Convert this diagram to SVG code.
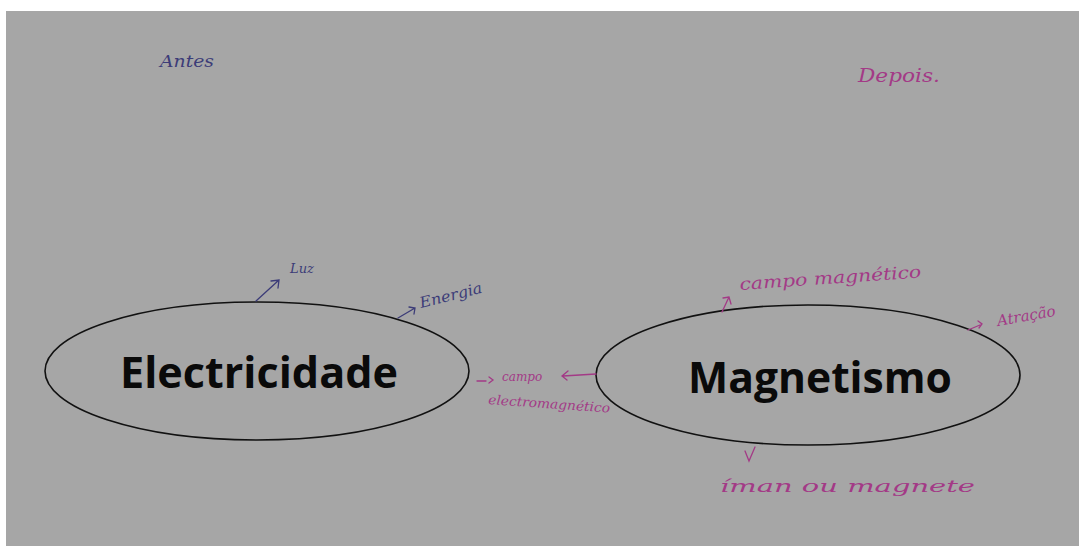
<svg xmlns="http://www.w3.org/2000/svg" width="1079" height="547" viewBox="0 0 1079 547">
<style>
.ell{fill:none;stroke:#111;stroke-width:1.6}
.big{font-family:"Open Sans","Noto Sans",sans-serif;font-weight:bold;font-size:43px;fill:#0a0a0a}
.hb{font-family:"DejaVu Serif","Liberation Serif",serif;font-style:italic;fill:#3c3c78}
.hm{font-family:"DejaVu Serif","Liberation Serif",serif;font-style:italic;fill:#a33a86}
.cb{fill:none;stroke:#3c3c78;stroke-width:1.3;stroke-linecap:round}
.cm{fill:none;stroke:#a33a86;stroke-width:1.3;stroke-linecap:round}
</style>
<rect x="0" y="0" width="1079" height="547" fill="#ffffff"/>
<rect x="6" y="11" width="1073" height="535" fill="#a6a6a6"/>
<g id="antes"><text class="hb" x="160" y="67" font-size="16" textLength="54" lengthAdjust="spacingAndGlyphs">Antes</text></g>
<g id="depois"><text class="hm" x="858" y="82" font-size="19" textLength="82" lengthAdjust="spacingAndGlyphs">Depois.</text></g>
<g id="electricidade">
<ellipse class="ell" cx="257" cy="371" rx="212" ry="69"/>
<text class="big" x="120" y="388" textLength="278" lengthAdjust="spacingAndGlyphs">Electricidade</text>
</g>
<g id="magnetismo">
<ellipse class="ell" cx="808" cy="375" rx="212" ry="70"/>
<text class="big" x="688" y="393" textLength="264" lengthAdjust="spacingAndGlyphs">Magnetismo</text>
</g>
<g id="luz"><text class="hb" x="290" y="273" font-size="13">Luz</text></g>
<g id="energia"><text class="hb" x="421" y="308" font-size="15" transform="rotate(-14 421 308)" textLength="64" lengthAdjust="spacingAndGlyphs">Energia</text></g>
<g id="campo-em">
<text class="hm" x="502" y="381" font-size="12">campo</text>
<text class="hm" x="488" y="404" font-size="13" transform="rotate(4 488 404)" textLength="122" lengthAdjust="spacingAndGlyphs">electromagnético</text>
</g>
<g id="campo-mag"><text class="hm" x="740" y="290" font-size="17" transform="rotate(-4 740 290)" textLength="182" lengthAdjust="spacingAndGlyphs">campo  magnético</text></g>
<g id="atracao"><text class="hm" x="998" y="326" font-size="15" transform="rotate(-10 998 326)">Atração</text></g>
<g id="iman"><text class="hm" x="720" y="492" font-size="17" textLength="255" lengthAdjust="spacingAndGlyphs">íman    ou    magnete</text></g>
<g id="connectors">
<path class="cb" d="M256 301 L279 280 M271 281 L279 280 L278 288"/>
<path class="cb" d="M398 318 L415 308 M409 307 L415 308 L414 314"/>
<path class="cm" d="M477 381 L486 381 M489 377 L493 380 L489 383"/>
<path class="cm" d="M596 374 L563 376 M568 371 L562 376 L567 380"/>
<path class="cm" d="M722 312 L729 297 M723 298 L729 297 L731 304"/>
<path class="cm" d="M968 330 L980 325 M978 321 L982 324 L979 328"/>
<path class="cm" d="M745 451 L749 461 L755 447"/>
</g>
</svg>
